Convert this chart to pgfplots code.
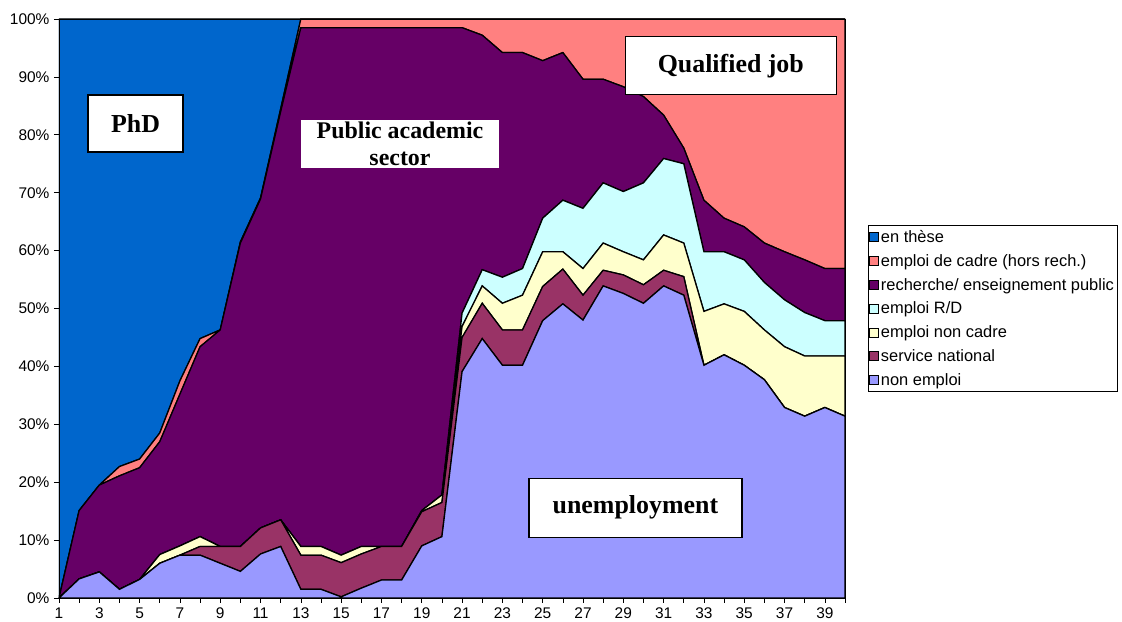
\documentclass[border=0pt]{standalone}
\usepackage{pgfplots}
\pgfplotsset{compat=1.18}
\usepackage{pgfplotstable}
\usepackage{fontspec}
\setmainfont{Liberation Sans}
\newfontfamily\timesf{Liberation Serif}
\definecolor{cthese}{HTML}{0066CC}
\definecolor{ccadre}{HTML}{FF8080}
\definecolor{crech}{HTML}{660066}
\definecolor{crd}{HTML}{CCFFFF}
\definecolor{cnc}{HTML}{FFFFCC}
\definecolor{csn}{HTML}{993366}
\definecolor{cne}{HTML}{9999FF}
\pgfplotstableread{
x  ne   sn  nc   rd   rp   cd   th
1  0    0   0    0    0    0    100
2  3.3  0   0    0    11.8 0    84.9
3  4.5  0   0    0    15.0 0    80.5
4  1.5  0   0    0    19.6 1.6  77.3
5  3.2  0   0    0    19.3 1.5  76.0
6  6.0  0   1.5  0    19.5 1.5  71.5
7  7.4  0   1.6  0    26.2 2.3  62.5
8  7.4  1.5 1.7  0    32.8 1.4  55.2
9  6.0  2.9 0    0    37.4 0    53.7
10 4.6  4.3 0    0    52.4 0.2  38.5
11 7.6  4.5 0    0    56.8 0.2  30.9
12 8.9  4.6 0    0    70.5 0.5  15.5
13 1.5  5.9 1.5  0    89.6 1.5  0
14 1.5  5.9 1.5  0    89.6 1.5  0
15 0.2  5.9 1.3  0    91.1 1.5  0
16 1.7  5.9 1.3  0    89.6 1.5  0
17 3.1  5.8 0    0    89.6 1.5  0
18 3.1  5.8 0    0    89.6 1.5  0
19 9.0  5.9 0.2  0    83.4 1.5  0
20 10.6 5.9 1.3  0    80.7 1.5  0
21 39.1 5.9 1.9  2.3  49.3 1.5  0
22 44.8 6.1 3.0  2.8  40.5 2.8  0
23 40.2 6.1 4.6  4.5  38.8 5.8  0
24 40.2 6.1 6.0  4.6  37.3 5.8  0
25 47.9 5.9 6.0  5.8  27.2 7.2  0
26 50.8 6.0 3.0  8.9  25.5 5.8  0
27 48.0 4.3 4.6  10.4 22.3 10.4 0
28 53.9 2.7 4.7  10.4 17.9 10.4 0
29 52.6 3.2 4.0  10.4 18.1 11.7 0
30 50.9 3.2 4.3  13.3 14.9 13.4 0
31 53.9 2.7 6.1  13.2 7.5  16.6 0
32 52.3 3.2 5.8  13.7 2.7  22.3 0
33 40.2 0   9.3  10.3 8.9  31.3 0
34 42.0 0   8.8  9.0  5.8  34.4 0
35 40.2 0   9.3  8.9  5.7  35.9 0
36 37.7 0   8.6  8.2  6.8  38.7 0
37 32.9 0   10.5 8.1  8.3  40.2 0
38 31.4 0   10.4 7.5  9.1  41.6 0
39 32.9 0   8.9  6.1  9.0  43.1 0
40 31.4 0   10.4 6.1  9.0  43.1 0
}\data
\begin{document}
\begin{tikzpicture}
\path (-59bp,-23bp) rectangle (1063bp,598bp);
\begin{axis}[
  at={(0,0)}, anchor=south west,
  scale only axis, width=786bp, height=579bp,
  xmin=1, xmax=40, ymin=0, ymax=100,
  stack plots=y,
  xtick={1,3,...,39}, minor xtick={2,4,...,40},
  ytick={0,10,...,100},
  yticklabel={\pgfmathprintnumber{\tick}\%},
  /pgf/number format/assume math mode=true,
  tick pos=left,
  tick align=outside, major tick length=5bp, minor tick length=5bp,
  tick style={black, line width=0.6pt},
  axis line style={black, line width=0.8pt},
  ticklabel style={font=\fontsize{15.5}{18}\selectfont},
  xticklabel style={yshift=-1bp},
  yticklabel style={xshift=-1bp},
  axis on top,
  reverse legend,
  legend cell align=left,
  legend style={at={(axis description cs:1.0293,0.644)}, anchor=north west,
    font=\fontsize{16.5}{19}\selectfont, draw=black, line width=0.6pt,
    inner xsep=1bp, inner ysep=3bp, row sep=6.4bp},
  legend image code/.code={\draw[#1, draw=black, line width=0.6pt] (0bp,-4.5bp) rectangle (9bp,4.5bp);},
  every axis plot/.append style={draw=black, line width=1.3pt},
]
\addplot[fill=cne] table[x=x,y=ne]{\data} \closedcycle;
\addlegendentry{non emploi}
\addplot[fill=csn] table[x=x,y=sn]{\data} \closedcycle;
\addlegendentry{service national}
\addplot[fill=cnc] table[x=x,y=nc]{\data} \closedcycle;
\addlegendentry{emploi non cadre}
\addplot[fill=crd] table[x=x,y=rd]{\data} \closedcycle;
\addlegendentry{emploi R/D}
\addplot[fill=crech] table[x=x,y=rp]{\data} \closedcycle;
\addlegendentry{recherche/ enseignement public}
\addplot[fill=ccadre] table[x=x,y=cd]{\data} \closedcycle;
\addlegendentry{emploi de cadre (hors rech.)}
\addplot[fill=cthese] table[x=x,y=th]{\data} \closedcycle;
\addlegendentry{en thèse}
\end{axis}
\node[draw=black, line width=1.2pt, fill=white, minimum width=95bp, minimum height=57bp, inner sep=0pt,
  font=\timesf\bfseries\fontsize{26}{30}\selectfont] at (76.5bp,474.5bp) {PhD};
\node[fill=white, minimum width=198bp, minimum height=48bp, inner sep=0pt, align=center,
  font=\timesf\bfseries\fontsize{24}{27}\selectfont] at (341bp,454bp) {Public academic\\sector};
\node[draw=black, line width=1.2pt, fill=white, minimum width=211bp, minimum height=58bp, inner sep=0pt,
  font=\timesf\bfseries\fontsize{26}{30}\selectfont] at (671.8bp,532.2bp) {Qualified job};
\node[draw=black, line width=1.2pt, fill=white, minimum width=213bp, minimum height=59bp, inner sep=0pt,
  font=\timesf\bfseries\fontsize{26}{30}\selectfont] at (576.4bp,90.2bp) {unemployment};
\end{tikzpicture}
\end{document}
